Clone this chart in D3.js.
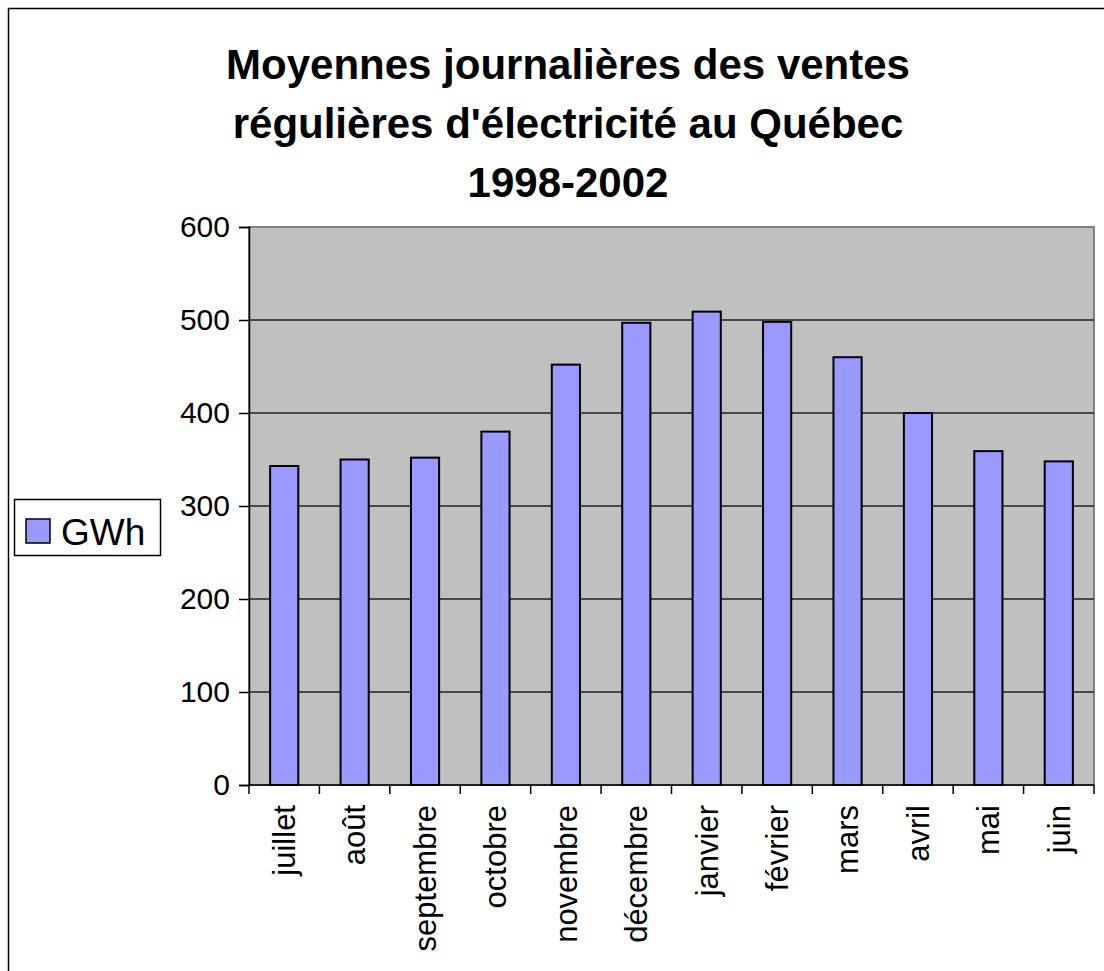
<!DOCTYPE html>
<html>
<head>
<meta charset="utf-8">
<script src="https://cdn.jsdelivr.net/npm/d3@7"></script>
<style>
  body { margin: 0; background: #fff; }
  text { font-family: "Liberation Sans", Arial, sans-serif; }
</style>
</head>
<body>
<div id="chart"></div>
<script>
// data
var months = ["juillet", "août", "septembre", "octobre", "novembre", "décembre",
              "janvier", "février", "mars", "avril", "mai", "juin"];
var gwh = [343, 350, 352, 380, 452, 497, 509, 498, 460, 400, 359, 348];
var yTicks = [0, 100, 200, 300, 400, 500, 600];
var titleLines = ["Moyennes journalières des ventes",
                  "régulières d'électricité au Québec",
                  "1998-2002"];
var seriesName = "GWh";

var W = 1104, H = 971;
var margin = { top: 227, right: 10, bottom: 186, left: 249 };
var width = W - margin.left - margin.right;
var height = H - margin.top - margin.bottom;

var svg = d3.select("#chart").append("svg")
    .attr("width", W)
    .attr("height", H);

// outer frame (cut at right and bottom in the original)
svg.append("rect")
    .attr("x", 8.5).attr("y", 8.5)
    .attr("width", 1300).attr("height", 1300)
    .attr("fill", "none").attr("stroke", "#000").attr("stroke-width", 1.5);

// title
svg.append("g").selectAll("text")
    .data(titleLines).enter().append("text")
    .attr("x", 568)
    .attr("y", function(d, i) { return 79 + i * 59; })
    .attr("text-anchor", "middle")
    .attr("font-size", 42)
    .attr("font-weight", "bold")
    .text(function(d) { return d; });

var g = svg.append("g")
    .attr("transform", "translate(" + margin.left + "," + margin.top + ")");

var x = d3.scaleBand().domain(months).range([0, width])
    .paddingInner(0.6).paddingOuter(0.3);
var step = x.step();
var y = d3.scaleLinear().domain([0, 600]).range([height, 0]);

// plot area
g.append("rect")
    .attr("width", width).attr("height", height)
    .attr("fill", "#c0c0c0").attr("stroke", "#808080").attr("stroke-width", 2);

// gridlines
g.append("g").selectAll("line")
    .data(yTicks.filter(function(v) { return v > 0 && v < 600; }))
    .enter().append("line")
    .attr("x1", 0).attr("x2", width)
    .attr("y1", function(d) { return y(d); })
    .attr("y2", function(d) { return y(d); })
    .attr("stroke", "#222").attr("stroke-width", 1.5);

// bars
g.append("g").selectAll("rect")
    .data(gwh).enter().append("rect")
    .attr("x", function(d, i) { return x(months[i]); })
    .attr("y", function(d) { return y(d); })
    .attr("width", x.bandwidth())
    .attr("height", function(d) { return height - y(d); })
    .attr("fill", "#9999ff")
    .attr("stroke", "#000").attr("stroke-width", 2);

// y axis
var yAxis = g.append("g")
    .call(d3.axisLeft(y).tickValues(yTicks).tickSize(10).tickPadding(9));
yAxis.select(".domain").attr("stroke", "#000").attr("stroke-width", 1.5);
yAxis.selectAll(".tick line").attr("stroke", "#000").attr("stroke-width", 1.5);
yAxis.selectAll(".tick text")
    .attr("font-size", 30).attr("font-family", "Liberation Sans, Arial, sans-serif")
    .attr("fill", "#000");

// x axis: ticks sit between categories
var xAxis = g.append("g").attr("transform", "translate(0," + height + ")");
xAxis.append("line")
    .attr("x1", 0).attr("x2", width)
    .attr("stroke", "#000").attr("stroke-width", 1.5);
xAxis.selectAll(".xt")
    .data(months.concat(["_end"])).enter().append("line")
    .attr("class", "xt")
    .attr("x1", function(d, i) { return i * step; })
    .attr("x2", function(d, i) { return i * step; })
    .attr("y1", 0).attr("y2", 9)
    .attr("stroke", "#000").attr("stroke-width", 1.5);
xAxis.selectAll(".xl")
    .data(months).enter().append("text")
    .attr("class", "xl")
    .attr("transform", function(d) {
        return "translate(" + (x(d) + x.bandwidth() / 2) + ",20) rotate(-90)";
    })
    .attr("text-anchor", "end")
    .attr("dy", "0.35em")
    .attr("font-size", 31)
    .text(function(d) { return d; });

// legend
var leg = svg.append("g");
leg.append("rect")
    .attr("x", 14.5).attr("y", 499.5).attr("width", 146).attr("height", 56)
    .attr("fill", "#fff").attr("stroke", "#000").attr("stroke-width", 1.5);
leg.append("rect")
    .attr("x", 26).attr("y", 519).attr("width", 24).attr("height", 24)
    .attr("fill", "#9999ff").attr("stroke", "#000").attr("stroke-width", 1.5);
leg.append("text")
    .attr("x", 61).attr("y", 545)
    .attr("font-size", 37)
    .text(seriesName);
</script>
</body>
</html>
